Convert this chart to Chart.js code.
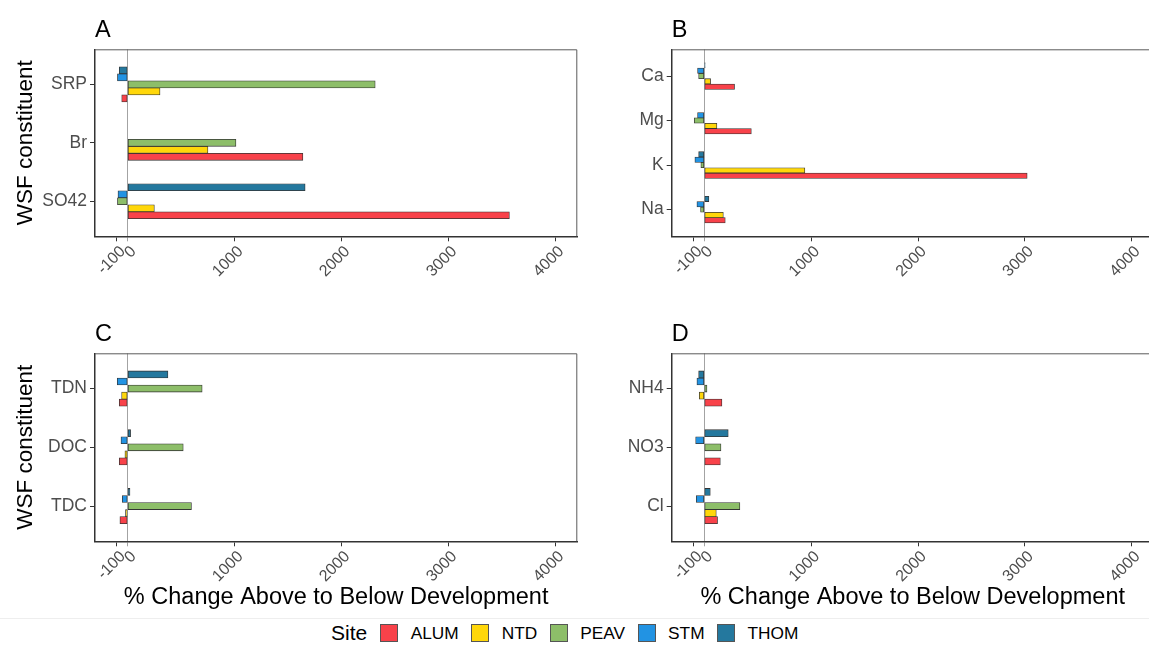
<!DOCTYPE html>
<html>
<head>
<meta charset="utf-8">
<script src="https://cdn.jsdelivr.net/npm/chart.js@4.4.0/dist/chart.umd.min.js"></script>
<style>
  html, body { margin: 0; padding: 0; background: #fff; }
  #wrap { position: relative; width: 1149px; height: 647px; overflow: hidden; background: #fff;
          font-family: "Liberation Sans", Arial, sans-serif; }
  #wrap canvas { position: absolute; }
  #legend { position: absolute; left: 331px; top: 622px; height: 22px; display: flex; align-items: center; }
  #legend .title { font-size: 21px; color: #000; margin-right: 13px; }
  #legend .key { width: 16px; height: 16px; border: 1px solid #555; margin-right: 12.5px; }
  #legend .lab { font-size: 17.3px; color: #000; margin-right: 12.5px; }
  #sep { position: absolute; left: 0; top: 618px; width: 1149px; height: 1px; background: #eeeeee; }
</style>
</head>
<body>
<div id="wrap">
  <div id="sep"></div>
  <div id="legend"></div>
</div>
<script>
// Sites (series) in legend order
const sites = ['ALUM', 'NTD', 'PEAV', 'STM', 'THOM'];

// Panel A: % change per constituent, one array per site
const catsA = ['SRP', 'Br', 'SO42'];
const alumA = [-55, 1639, 3570];
const ntdA  = [303, 751, 250];
const peavA = [2315, 1013, -95];
const stmA  = [-95, null, -90];
const thomA = [-78, null, 1660];

// Panel B
const catsB = ['Ca', 'Mg', 'K', 'Na'];
const alumB = [283, 440, 3021, 196];
const ntdB  = [59, 118, 941, 178];
const peavB = [-53, -94, -32, -35];
const stmB  = [-63, -63, -88, -69];
const thomB = [8, null, -53, 43];

// Panel C
const catsC = ['TDN', 'DOC', 'TDC'];
const alumC = [-78, -78, -72];
const ntdC  = [-56, -25, -20];
const peavC = [697, 520, 597];
const stmC  = [-97, -62, -50];
const thomC = [377, 28, 22];

// Panel D
const catsD = ['NH4', 'NO3', 'Cl'];
const alumD = [165, 150, 124];
const ntdD  = [-47, null, 112];
const peavD = [25, 156, 333];
const stmD  = [-69, -81, -75];
const thomD = [-53, 224, 56];

// Shared value axis breaks
const xTicks = [-100, 0, 1000, 2000, 3000, 4000];

// ---- styling ----
const siteColors = ['#F8424A', '#FFD70A', '#8DBE69', '#2293E3', '#24789E'];
const FONT = '"Liberation Sans", Arial, sans-serif';
Chart.defaults.font.family = FONT;

const panels = [
  { letter: 'A', cats: catsA, series: [alumA, ntdA, peavA, stmA, thomA],
    left: 0, top: 0, w: 600, h: 320, area: { l: 95, t: 49.3, r: 577.3, b: 236.3 }, yTitle: true, xTitle: false },
  { letter: 'B', cats: catsB, series: [alumB, ntdB, peavB, stmB, thomB],
    left: 600, top: 0, w: 562, h: 320, area: { l: 671.7, t: 49.3, r: 1153.7, b: 236.3 }, yTitle: false, xTitle: false },
  { letter: 'C', cats: catsC, series: [alumC, ntdC, peavC, stmC, thomC],
    left: 0, top: 300, w: 600, h: 320, area: { l: 95, t: 353.3, r: 577.3, b: 541.3 }, yTitle: true, xTitle: true },
  { letter: 'D', cats: catsD, series: [alumD, ntdD, peavD, stmD, thomD],
    left: 600, top: 300, w: 562, h: 320, area: { l: 671.7, t: 353.3, r: 1153.7, b: 541.3 }, yTitle: false, xTitle: true }
];

// Panel frame (top/right edges) and the facet letter
const framePlugin = {
  id: 'frame',
  afterDraw(chart, args, opts) {
    const { ctx, chartArea: a } = chart;
    ctx.save();
    ctx.strokeStyle = '#5a5a5a';
    ctx.lineWidth = 1;
    ctx.beginPath();
    ctx.moveTo(a.left, a.top + 0.5);
    ctx.lineTo(a.right - 0.5, a.top + 0.5);
    ctx.lineTo(a.right - 0.5, a.bottom);
    ctx.stroke();
    ctx.fillStyle = '#000';
    ctx.font = '23.5px ' + FONT;
    ctx.textAlign = 'left';
    ctx.textBaseline = 'alphabetic';
    ctx.fillText(opts.letter, a.left, a.top - 12.6);
    ctx.restore();
  }
};

function makePanel(p) {
  const cv = document.createElement('canvas');
  cv.width = p.w; cv.height = p.h;
  cv.style.left = p.left + 'px'; cv.style.top = p.top + 'px';
  cv.style.width = p.w + 'px'; cv.style.height = p.h + 'px';
  document.getElementById('wrap').appendChild(cv);

  const n = p.cats.length;
  const plotH = p.area.b - p.area.t;
  // value range of the category axis is n + 0.2 units; each group fills 0.6 of a unit
  const thick = 0.6 * plotH / (n + 0.2) / sites.length;

  // THOM drawn first so it sits on top of each group, ALUM at the bottom
  const order = [4, 3, 2, 1, 0];
  const datasets = order.map(k => ({
    label: sites[k],
    data: p.series[k].map((v, i) => ({ x: v, y: n - i })),
    backgroundColor: siteColors[k],
    borderColor: '#333',
    borderWidth: 0.8,
    borderSkipped: false,
    barThickness: thick
  }));

  const padTop = p.area.t - p.top;
  const padRight = p.left + p.w - p.area.r;
  const padBottom = p.xTitle ? 8.0 : 0;
  const xHeight = p.h - (p.area.b - p.top) - padBottom;

  new Chart(cv, {
    type: 'bar',
    data: { datasets },
    options: {
      indexAxis: 'y',
      responsive: false,
      animation: false,
      events: [],
      layout: { padding: { left: 0, top: padTop, right: padRight, bottom: padBottom } },
      plugins: {
        legend: { display: false },
        tooltip: { enabled: false },
        frame: { letter: p.letter }
      },
      scales: {
        x: {
          type: 'linear',
          min: -305, max: 4205,
          offset: false,
          afterBuildTicks: s => { s.ticks = xTicks.map(v => ({ value: v })); },
          ticks: {
            autoSkip: false, minRotation: 45, maxRotation: 45,
            color: '#4d4d4d', font: { size: 16 }, padding: 1, labelOffset: 6,
            callback: v => String(v)
          },
          grid: {
            display: true, drawOnChartArea: true, drawTicks: true, tickLength: 5, offset: false,
            color: c => (c.tick && c.tick.value === 0) ? '#a3a3a3' : 'rgba(0,0,0,0)',
            tickColor: c => (c.tick && c.tick.value === 0) ? '#a3a3a3' : '#333',
            lineWidth: 1
          },
          border: { display: true, color: '#333', width: 1.5 },
          title: {
            display: p.xTitle, text: '% Change Above to Below Development',
            color: '#000', font: { size: 23.5 }, padding: { top: 0, bottom: 0 }
          },
          afterFit: s => { s.height = xHeight; s.paddingLeft = 0; s.paddingRight = 0; }
        },
        y: {
          type: 'linear',
          min: 0.4, max: n + 0.6,
          offset: false,
          bounds: 'data',
          afterBuildTicks: s => { s.ticks = p.cats.map((c, i) => ({ value: n - i })); },
          ticks: {
            color: '#4d4d4d', font: { size: 17.5 }, padding: 3,
            callback: v => p.cats[n - v]
          },
          grid: { display: true, drawOnChartArea: false, drawTicks: true, tickLength: 5, tickColor: '#333', offset: false },
          border: { display: true, color: '#333', width: 1.5 },
          title: {
            display: p.yTitle, text: 'WSF constituent',
            color: '#000', font: { size: 22.5 }, padding: { top: 12.3, bottom: 0 }
          },
          afterFit: s => { s.width = p.area.l - p.left; s.paddingTop = 0; s.paddingBottom = 0; }
        }
      }
    },
    plugins: [framePlugin]
  });
}

panels.forEach(makePanel);

// Legend
const lg = document.getElementById('legend');
const t = document.createElement('span');
t.className = 'title'; t.textContent = 'Site';
lg.appendChild(t);
sites.forEach((s, k) => {
  const key = document.createElement('span');
  key.className = 'key'; key.style.background = siteColors[k];
  const lab = document.createElement('span');
  lab.className = 'lab'; lab.textContent = s;
  lg.appendChild(key); lg.appendChild(lab);
});
</script>
</body>
</html>
